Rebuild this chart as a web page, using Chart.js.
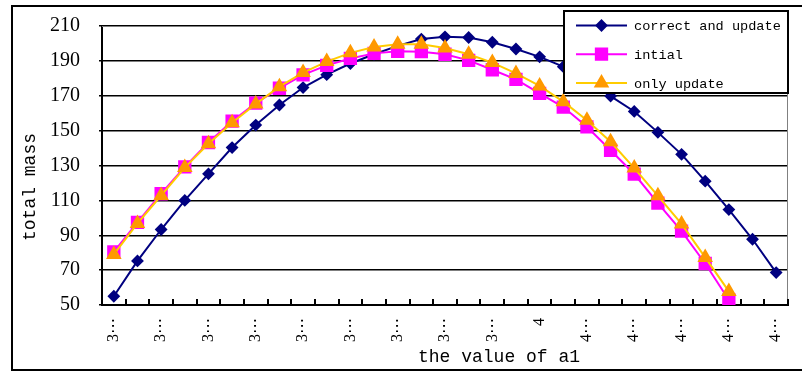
<!DOCTYPE html>
<html>
<head>
<meta charset="utf-8">
<script src="https://cdn.jsdelivr.net/npm/chart.js@4.4.1/dist/chart.umd.min.js"></script>
<style>
  html, body { margin: 0; padding: 0; background: #fff; overflow: hidden; }
</style>
</head>
<body>
<canvas id="massChart" width="802" height="372"></canvas>
<script>
// values of a1 (every second one gets a label)
const categories = ['3.10','3.15','3.20','3.25','3.30','3.35','3.40','3.45','3.50','3.55',
  '3.60','3.65','3.70','3.75','3.80','3.85','3.90','3.95','4.00','4.05',
  '4.10','4.15','4.20','4.25','4.30','4.35','4.40','4.45','4.50'];
const tickLabels = ['3⋯','3⋯','3⋯','3⋯','3⋯','3⋯','3⋯','3⋯','3⋯','4','4⋯','4⋯','4⋯','4⋯','4⋯'];

const correctAndUpdate = [55, 75.3, 93.3, 110, 125.2, 140.3, 153.2, 164.7, 174.7, 182.1,
  188.5, 193.8, 198.6, 202.5, 203.8, 203.4, 200.7, 196.8, 192.3, 186.7,
  179, 169.8, 161, 149, 136.4, 121, 104.7, 87.7, 68.6];
const intial = [80.5, 97.4, 113.8, 129.2, 143.2, 155.4, 165.8, 174.3, 182, 187.4,
  191.4, 194.3, 195.5, 195.3, 193.8, 190.3, 184.9, 179.4, 171.4, 163.5,
  152.2, 138.7, 125.1, 108.4, 92.4, 73.8, 52.9];
const onlyUpdate = [79, 96.8, 112.8, 128.8, 142.5, 154.5, 165.3, 175.2, 183.3, 189.6,
  194.6, 198, 199.6, 199.5, 197.4, 193.8, 189, 182.8, 175.6, 166.6,
  156, 143.6, 128.5, 112.6, 96.5, 77.3, 57.8];

const xTitle = 'the value of a1';
const yTitle = 'total mass';

// outer frame, axis titles, inner tick marks and the boxed legend
const decorations = {
  id: 'decorations',
  beforeDraw(chart) {
    const ctx = chart.ctx;
    ctx.save();
    ctx.fillStyle = '#fff';
    ctx.fillRect(0, 0, chart.width, chart.height);
    ctx.strokeStyle = '#000';
    ctx.lineWidth = 2;
    ctx.strokeRect(12, 6, 820, 364);
    ctx.restore();
  },
  afterDraw(chart) {
    const ctx = chart.ctx, a = chart.chartArea, xs = chart.scales.x;
    ctx.save();
    ctx.setLineDash([]);
    ctx.globalAlpha = 1;
    ctx.strokeStyle = '#808080';
    ctx.lineWidth = 1;
    ctx.beginPath();
    ctx.moveTo(a.left, a.top + 0.5);
    ctx.lineTo(a.right - 0.5, a.top + 0.5);
    ctx.lineTo(a.right - 0.5, a.bottom);
    ctx.stroke();

    // tick marks between categories, pointing up into the plot
    const first = xs.getPixelForValue(0);
    const step = xs.getPixelForValue(1) - first;
    ctx.fillStyle = '#000';
    for (let i = 0; i <= categories.length; i++) {
      const x = Math.round(first + (i - 0.5) * step);
      ctx.fillRect(x - 1, a.bottom - 6, 2, 6);
    }

    ctx.font = '18px "Liberation Mono"';
    ctx.textAlign = 'center';
    ctx.textBaseline = 'middle';
    ctx.fillText(xTitle, 499, 357);
    ctx.save();
    ctx.translate(30, 187);
    ctx.rotate(-Math.PI / 2);
    ctx.fillText(yTitle, 0, 0);
    ctx.restore();

    // boxed legend over the top right of the plot
    const w = 224, h = 82;
    const lx = a.right - w, ly = 11;
    ctx.fillStyle = '#fff';
    ctx.fillRect(lx, ly, w, h);
    ctx.strokeStyle = '#000';
    ctx.lineWidth = 2;
    ctx.strokeRect(lx, ly, w, h);
    chart.data.datasets.forEach((ds, i) => {
      const y = ly + 14.5 + i * 28.7;
      ctx.strokeStyle = ds.borderColor;
      ctx.lineWidth = 2;
      ctx.beginPath();
      ctx.moveTo(lx + 12, y);
      ctx.lineTo(lx + 63, y);
      ctx.stroke();
      ctx.fillStyle = ds.pointBackgroundColor;
      ctx.strokeStyle = ds.pointBorderColor;
      Chart.helpers.drawPoint(ctx, { pointStyle: ds.pointStyle, radius: ds.pointRadius, borderWidth: 1, rotation: 0 }, lx + 37.5, y);
      ctx.fillStyle = '#000';
      ctx.font = '13.6px "Liberation Mono"';
      ctx.textAlign = 'left';
      ctx.textBaseline = 'middle';
      ctx.fillText(ds.label, lx + 70, y + 1);
    });
    ctx.restore();
  }
};

// keep the plot box where the reference has it
const fixBox = s => { s.paddingLeft = 0; s.paddingRight = 0; s.paddingTop = 0; s.paddingBottom = 0; };

new Chart(document.getElementById('massChart'), {
  type: 'line',
  data: {
    labels: categories,
    datasets: [
      {
        label: 'correct and update',
        data: correctAndUpdate,
        borderColor: '#000080',
        borderWidth: 2,
        pointStyle: 'rectRot',
        pointRadius: 5,
        pointBackgroundColor: '#000080',
        pointBorderColor: '#000080',
        order: 3
      },
      {
        label: 'intial',
        data: intial,
        borderColor: '#ff00ff',
        borderWidth: 2,
        pointStyle: 'rect',
        pointRadius: 8,
        pointBackgroundColor: '#ff00ff',
        pointBorderColor: '#ff00ff',
        order: 2
      },
      {
        label: 'only update',
        data: onlyUpdate,
        borderColor: '#ffcc00',
        borderWidth: 2,
        pointStyle: 'triangle',
        pointRadius: 7,
        pointBackgroundColor: '#ff9900',
        pointBorderColor: '#ff9900',
        order: 1
      }
    ]
  },
  options: {
    responsive: false,
    animation: false,
    layout: { padding: { left: 11, top: 26, right: 14, bottom: 0 } },
    elements: { line: { tension: 0 } },
    plugins: {
      legend: { display: false },
      tooltip: { enabled: false }
    },
    scales: {
      x: {
        offset: true,
        afterFit: s => { s.height = 67; fixBox(s); },
        border: { display: true, color: '#000', width: 2 },
        grid: { display: true, offset: true, drawOnChartArea: false, drawTicks: true, tickLength: -5, color: 'rgba(0,0,0,0)' },
        ticks: {
          autoSkip: false,
          minRotation: 90,
          maxRotation: 90,
          padding: 18,
          color: '#000',
          font: { family: '"Liberation Serif", "DejaVu Sans"', size: 16 },
          callback: (v, i) => (i % 2 === 0 ? tickLabels[i / 2] : '')
        }
      },
      y: {
        min: 50,
        max: 210,
        afterFit: s => { s.width = 91; fixBox(s); },
        border: { display: true, color: '#000', width: 2 },
        grid: { color: '#000', lineWidth: 1.5, tickLength: 3 },
        ticks: {
          stepSize: 20,
          padding: 19,
          color: '#000',
          font: { family: '"Liberation Serif"', size: 20 }
        }
      }
    }
  },
  plugins: [decorations]
});
</script>
</body>
</html>
